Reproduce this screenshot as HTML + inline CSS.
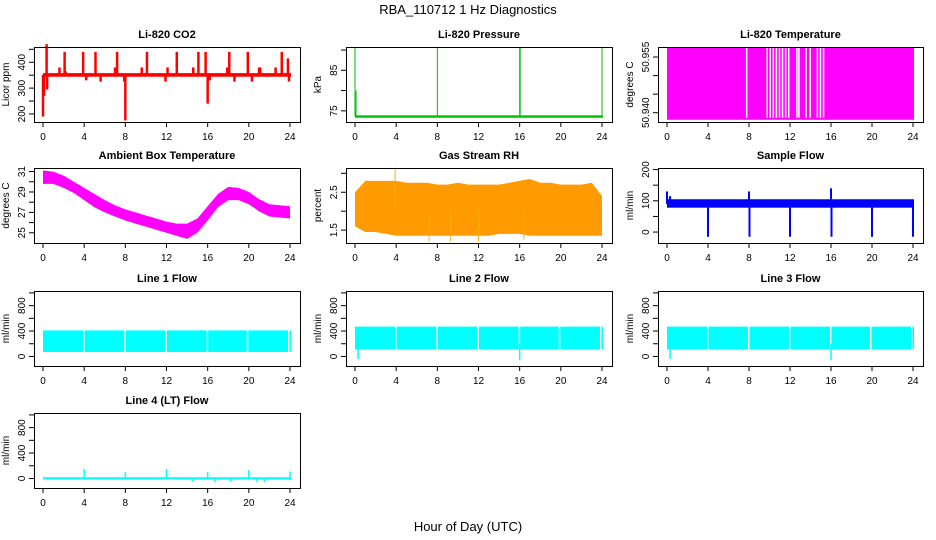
<!DOCTYPE html>
<html><head><meta charset="utf-8"><style>
html,body{margin:0;padding:0;background:#fff;}
svg{display:block;font-family:"Liberation Sans",Arial,sans-serif;}
</style></head><body>
<svg id="chart" width="936" height="540" viewBox="0 0 936 540" xmlns="http://www.w3.org/2000/svg">
<text x="468" y="14" font-size="13" text-anchor="middle">RBA_110712  1 Hz Diagnostics</text>
<text x="468" y="531" font-size="13" text-anchor="middle">Hour of Day (UTC)</text>
</svg>
<script>
const hours = [0,1,2,3,4,5,6,7,8,9,10,11,12,13,14,15,16,17,18,19,20,21,22,23,24];
const xTicks = [0,4,8,12,16,20,24];
// CO2
const co2Lo = 344, co2Hi = 358;
const co2SpikeHours = [0,0.1,0.35,0.4,1.6,2.1,2.2,3.9,4.2,5.1,5.6,7.0,7.2,7.9,8.0,9.6,10.1,11.9,12.1,13.0,14.6,15.1,15.8,16.0,16.2,17.9,18.1,18.6,19.9,20.3,21.0,21.1,22.6,23.2,23.8,23.9];
const co2SpikeVals = [190,270,470,295,380,440,365,440,330,440,325,380,440,325,175,380,440,325,380,440,380,440,440,240,330,380,440,325,440,325,380,380,380,440,415,325];
// Pressure
const presBase = 73.6;
const presSpikeHours = [0,0.1,8,16,16.05,24];
const presSpikeVals = [90.5,80,90.5,90.7,90.7,90.5];
// Li-820 Temperature
const tempHi = 50.9575, tempLo = 50.9381;
const tempGapHours = [7.7,9.7,10.0,10.3,10.6,10.9,11.2,11.5,11.8,12.6,12.8,13.5,13.9,14.6,14.9,15.2];
// Ambient box temperature
const ambLo = [29.8,29.8,29.4,28.9,28.2,27.5,27.0,26.6,26.2,25.9,25.6,25.3,25.0,24.7,24.4,25.0,26.2,27.5,28.2,28.2,27.8,27.1,26.6,26.5,26.4];
const ambHi = [31.1,31.0,30.6,30.0,29.4,28.8,28.2,27.7,27.3,27.0,26.7,26.4,26.1,25.9,25.9,26.4,27.6,28.8,29.5,29.4,29.0,28.3,27.8,27.7,27.6];
// Gas stream RH
const rhLo = [1.6,1.45,1.45,1.4,1.35,1.35,1.35,1.35,1.35,1.35,1.35,1.35,1.35,1.35,1.4,1.4,1.4,1.35,1.35,1.35,1.35,1.35,1.35,1.35,1.35];
const rhHi = [2.5,2.8,2.8,2.8,2.8,2.75,2.75,2.75,2.7,2.7,2.75,2.7,2.7,2.7,2.7,2.75,2.8,2.85,2.75,2.75,2.7,2.7,2.7,2.75,2.4];
const rhSpikeHours = [3.9,7.2,9.3,12.0,16.4];
const rhSpikeVals = [3.15,1.2,1.2,1.2,1.25];
// Sample flow
const sfLo = 78, sfHi = 105;
const sfSpikeHours = [0,0.3,4,8,8.05,12,16,16.05,20,24];
const sfSpikeVals = [130,115,-15,130,-15,-15,140,-15,-15,-15];
// Line flows
const l1Lo = 70, l1Hi = 410;
const l1GapHours = [3.9,7.9,11.9,15.9,19.8,23.8];
const l2Lo = 110, l2Hi = 470;
const l2GapHours = [3.9,7.9,11.9,15.9,19.8,23.8];
const l2SpikeHours = [0.3,16];
const l2SpikeVals = [-40,-60];
const l3Lo = 110, l3Hi = 470;
const l3GapHours = [3.9,7.9,11.9,15.9,19.8,23.8];
const l3SpikeHours = [0.3,16];
const l3SpikeVals = [-40,-60];
const l4Lo = -15, l4Hi = 20;
const l4SpikeHours = [4,8,12,14.5,16,16.7,18.2,20,20.8,21.5,24];
const l4SpikeVals = [150,100,150,-50,100,-55,-50,130,-60,-60,110];

const svg = document.getElementById('chart');
const NS = 'http://www.w3.org/2000/svg';
function mk(tag, attrs, parent){
  const e = document.createElementNS(NS, tag);
  for (const k in attrs) e.setAttribute(k, attrs[k]);
  (parent||svg).appendChild(e);
  return e;
}
const colL = [34,346,658], colR = [300,612,923];
const rowT = [47,168,291,413], H = 75;

function panel(col,row,title,ylab,ymin,ymax,yticks,ylabels,slug){
  const L=colL[col], R=colR[col], T=rowT[row], B=T+H;
  const g = mk('g',{});
  
  
  const x0=L+9, x24=R-10;
  const sx = h => x0 + h*(x24-x0)/24;
  const sy = v => B - (v-ymin)/(ymax-ymin)*H;
  const t = mk('text',{x:(L+R)/2,y:T-9,'font-size':11,'font-weight':'bold','text-anchor':'middle'},g);
  t.textContent = title;
  
  
  const yl = mk('text',{x:0,y:0,'font-size':10,'text-anchor':'middle',transform:`translate(${L-25},${(T+B)/2}) rotate(-90)`},g);
  yl.textContent = ylab;
  
  
  const plot = mk('g',{},g);
  
  
  const axes = mk('g',{stroke:'#000','stroke-width':1,fill:'none'},g);
  
  
  mk('rect',{x:L+0.5,y:T+0.5,width:R-L,height:H},axes);
  mk('line',{x1:sx(0),x2:sx(24),y1:B+0.5,y2:B+0.5},axes);
  xTicks.forEach(h=>{
    mk('line',{x1:sx(h),x2:sx(h),y1:B,y2:B+5},axes);
    const tx = mk('text',{x:sx(h),y:B+18,'font-size':10,'text-anchor':'middle',fill:'#000',stroke:'none'},g);
    tx.textContent = h;
    
    
  });
  mk('line',{x1:L+0.5,x2:L+0.5,y1:sy(yticks[0]),y2:sy(yticks[yticks.length-1])},axes);
  yticks.forEach(v=>{
    mk('line',{x1:L-5,x2:L,y1:sy(v),y2:sy(v)},axes);
  });
  ylabels.forEach(v=>{
    const ty = mk('text',{x:0,y:0,'font-size':10,'text-anchor':'middle',transform:`translate(${L-9},${sy(v)}) rotate(-90)`},g);
    ty.textContent = v;
    
    
  });
  return {sx,sy,plot,T,B};
}
function band(p,lo,hi,fill){
  let pts=[];
  hours.forEach((h,i)=>pts.push(p.sx(h)+','+p.sy(hi[i])));
  for(let i=hours.length-1;i>=0;i--) pts.push(p.sx(hours[i])+','+p.sy(lo[i]));
  const e = mk('polygon',{points:pts.join(' '),fill:fill},p.plot);
  
  
}
function flatBand(p,lo,hi,fill){
  const e = mk('rect',{x:p.sx(0),y:p.sy(hi),width:p.sx(24)-p.sx(0)+1,height:p.sy(lo)-p.sy(hi),fill:fill},p.plot);
  
  
}
function spikes(p,hs,vs,base,color,w){
  hs.forEach((h,i)=>{
    const e = mk('line',{x1:p.sx(h),x2:p.sx(h),y1:p.sy(base),y2:p.sy(vs[i]),stroke:color,'stroke-width':w||1.5},p.plot);
    
    
  });
}
function gaps(p,hs,y1,y2){
  hs.forEach(h=>{
    const e = mk('rect',{x:p.sx(h),y:y1,width:1.5,height:y2-y1,fill:'#fff'},p.plot);
    
    
  });
}

let p = panel(0,0,'Li-820 CO2','Licor ppm',169,459,[200,250,300,350,400,450],[200,300,400],'co2');
spikes(p,co2SpikeHours,co2SpikeVals,351,'#ff0000',2.5);
flatBand(p,co2Lo,co2Hi,'#ff0000');
p = panel(1,0,'Li-820 Pressure','kPa',72.25,90.75,[75,80,85,90],[75,85],'pressure');
spikes(p,presSpikeHours,presSpikeVals,presBase,'#00c000',1);
flatBand(p,presBase-0.3,presBase+0.3,'#00c000');
p = panel(2,0,'Li-820 Temperature','degrees C',50.9375,50.9577,[50.940,50.945,50.950,50.955],['50.940','50.955'],'li820-temp');
flatBand(p,tempLo,tempHi,'#ff00ff');
gaps(p,tempGapHours,p.sy(tempHi),p.sy(tempLo)-2);
p = panel(0,1,'Ambient Box Temperature','degrees C',24.0,31.35,[25,26,27,28,29,30,31],[25,27,29,31],'ambient-temp');
band(p,ambLo,ambHi,'#ff00ff');
p = panel(1,1,'Gas Stream RH','percent',1.16,3.14,[1.5,2,2.5,3],[1.5,2.5],'gas-rh');
band(p,rhLo,rhHi,'#ff9a00');
spikes(p,rhSpikeHours,rhSpikeVals,2.0,'#ffb000',1);
p = panel(2,1,'Sample Flow','ml/min',-35,205,[0,50,100,150,200],[0,100,200],'sample-flow');
flatBand(p,sfLo,sfHi,'#0000ff');
spikes(p,sfSpikeHours,sfSpikeVals,90,'#0000ff',2);
const lt=[0,200,400,600,800,1000], ll=[0,400,800];
p = panel(0,2,'Line 1 Flow','ml/min',-150,1030,lt,ll,'line1-flow');
flatBand(p,l1Lo,l1Hi,'#00ffff');
gaps(p,l1GapHours,p.sy(l1Hi),p.sy(l1Lo));
p = panel(1,2,'Line 2 Flow','ml/min',-150,1030,lt,ll,'line2-flow');
flatBand(p,l2Lo,l2Hi,'#00ffff');
gaps(p,l2GapHours,p.sy(l2Hi),p.sy(l2Lo));
spikes(p,l2SpikeHours,l2SpikeVals,200,'#00ffff',1.5);
p = panel(2,2,'Line 3 Flow','ml/min',-150,1030,lt,ll,'line3-flow');
flatBand(p,l3Lo,l3Hi,'#00ffff');
gaps(p,l3GapHours,p.sy(l3Hi),p.sy(l3Lo));
spikes(p,l3SpikeHours,l3SpikeVals,200,'#00ffff',1.5);
p = panel(0,3,'Line 4 (LT) Flow','ml/min',-150,1030,lt,ll,'line4-flow');
flatBand(p,l4Lo,l4Hi,'#00ffff');
spikes(p,l4SpikeHours,l4SpikeVals,0,'#00ffff',1.5);
</script>
</body></html>
